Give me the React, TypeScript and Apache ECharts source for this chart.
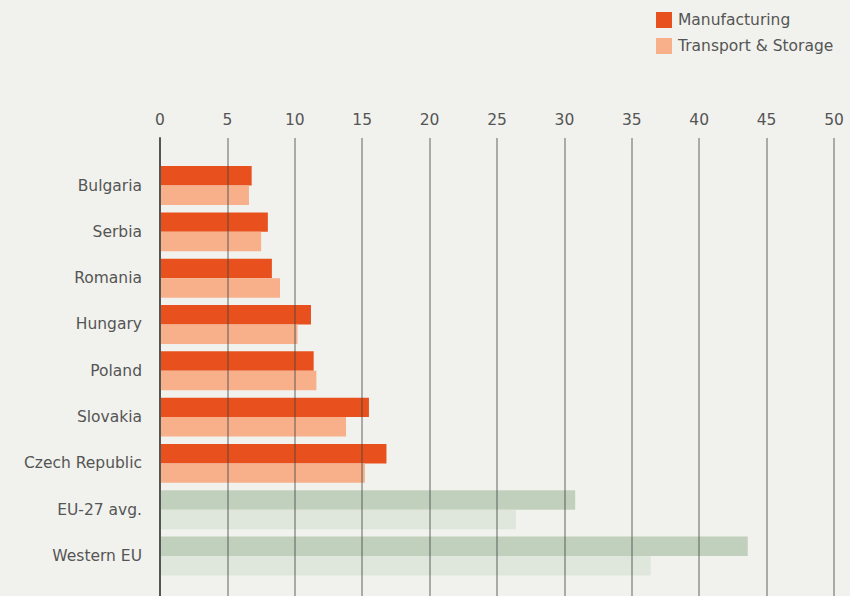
import React, { useEffect, useRef } from "react";
import * as echarts from "echarts";

const categories = [
  "Bulgaria",
  "Serbia",
  "Romania",
  "Hungary",
  "Poland",
  "Slovakia",
  "Czech Republic",
  "EU-27 avg.",
  "Western EU",
];
const manufacturing = [6.8, 8.0, 8.3, 11.2, 11.4, 15.5, 16.8, 30.8, 43.6];
const transport = [6.6, 7.5, 8.9, 10.2, 11.6, 13.8, 15.2, 26.4, 36.4];
const referenceRows = ["EU-27 avg.", "Western EU"];
const xTicks = { min: 0, max: 50, interval: 5 };

const MANU = "#e8501e";
const TRANS = "#f7b08a";
const REF_MANU = "#c0d0bc";
const REF_TRANS = "#dfe6dc";
const TEXT = "#555555";
const FONT = "DejaVu Sans";

export default function App() {
  const ref = useRef<HTMLDivElement>(null);
  useEffect(() => {
    if (!ref.current) return;
    const chart = echarts.init(ref.current, null, { renderer: "svg" });
    const mk = (vals: number[], base: string, refc: string) =>
      vals.map((v, i) => ({
        value: v,
        itemStyle: { color: referenceRows.includes(categories[i]) ? refc : base },
      }));
    chart.setOption({
      animation: false,
      backgroundColor: "#f1f2ed",
      textStyle: { fontFamily: FONT },
      legend: {
        orient: "vertical",
        left: 656,
        top: 12,
        padding: 0,
        itemWidth: 16,
        itemHeight: 16,
        itemGap: 10,
        icon: "rect",
        textStyle: { color: TEXT, fontSize: 15.5, fontFamily: FONT, padding: [0, 0, 0, 1] },
        data: ["Manufacturing", "Transport & Storage"],
      },
      grid: [
        { left: 160, right: 16, top: 138, bottom: -10 },
        { left: 160, right: 16, top: 162.4, bottom: 16.8 },
      ],
      xAxis: [
        {
          gridIndex: 0,
          type: "value",
          position: "top",
          min: xTicks.min,
          max: xTicks.max,
          interval: xTicks.interval,
          z: 10,
          axisLine: { show: false },
          axisTick: { show: false },
          axisLabel: { color: TEXT, fontSize: 15.5, fontFamily: FONT, margin: 10 },
          splitLine: { show: true, lineStyle: { color: "rgba(70,70,70,0.55)", width: 1.5 } },
        },
        {
          gridIndex: 1,
          type: "value",
          min: xTicks.min,
          max: xTicks.max,
          interval: xTicks.interval,
          show: false,
          splitLine: { show: false },
        },
      ],
      yAxis: [
        {
          gridIndex: 0,
          type: "value",
          min: 0,
          max: 1,
          z: 11,
          axisLine: { show: true, lineStyle: { color: "#555", width: 2 } },
          axisTick: { show: false },
          axisLabel: { show: false },
          splitLine: { show: false },
        },
        {
          gridIndex: 1,
          type: "category",
          data: categories,
          inverse: true,
          axisLine: { show: false },
          axisTick: { show: false },
          axisLabel: { color: TEXT, fontSize: 15.5, fontFamily: FONT, margin: 18, padding: [0, 0, 3, 0] },
        },
      ],
      series: [
        {
          name: "Manufacturing",
          type: "bar",
          xAxisIndex: 1,
          yAxisIndex: 1,
          data: mk(manufacturing, MANU, REF_MANU),
          itemStyle: { color: MANU },
          barGap: "0%",
          barCategoryGap: "16%",
        },
        {
          name: "Transport & Storage",
          type: "bar",
          xAxisIndex: 1,
          yAxisIndex: 1,
          data: mk(transport, TRANS, REF_TRANS),
          itemStyle: { color: TRANS },
          barGap: "0%",
          barCategoryGap: "16%",
        },
      ],
    });
    return () => chart.dispose();
  }, []);
  return (
    <div
      ref={ref}
      style={{ position: "fixed", left: 0, top: 0, width: 850, height: 596 }}
    />
  );
}
